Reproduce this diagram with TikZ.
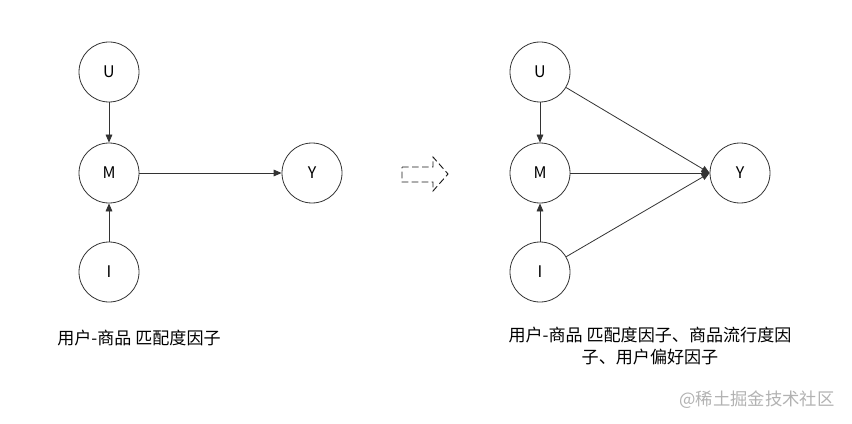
\documentclass[tikz,border=0pt]{standalone}
\usepackage{fontspec}
\setmainfont{Noto Sans CJK SC}
\usetikzlibrary{arrows.meta}

\begin{document}
\begin{tikzpicture}[x=0.75pt,y=-0.75pt,
  var/.style={circle,draw=black!80,line width=0.6pt,minimum size=45pt,inner sep=0pt,
    font=\fontsize{12}{14}\selectfont},
  link/.style={draw=black!80,line width=0.6pt,-{Triangle[length=6pt,width=5pt]}},
  note/.style={font=\fontsize{12.8}{16.5}\selectfont,align=center,inner sep=0pt}]
  \useasboundingbox (0,0) rectangle (852,424);
  % left graph
  \node[var] (U1) at (109,72) {U};
  \node[var] (M1) at (109,173) {M};
  \node[var] (I1) at (109,272) {I};
  \node[var] (Y1) at (312,173) {Y};
  \draw[link] (U1) -- (M1);
  \draw[link] (I1) -- (M1);
  \draw[link] (M1) -- (Y1);
  \node[note] (cap1) at (139,338) {用户-商品 匹配度因子};
  % dashed arrow
  \draw[black!90,line width=0.7pt,dash pattern=on 5pt off 2.5pt]
    (402,167) -- (433,167) -- (433,157) -- (448,174) -- (433,191) -- (433,182)
    -- (402,182) -- cycle;
  % right graph
  \node[var] (U2) at (540,72) {U};
  \node[var] (M2) at (540,173) {M};
  \node[var] (I2) at (540,272) {I};
  \node[var] (Y2) at (740,173) {Y};
  \draw[link] (U2) -- (M2);
  \draw[link] (I2) -- (M2);
  \draw[link] (M2) -- (Y2.west);
  \draw[link] (U2) -- (Y2.west);
  \draw[link] (I2) -- (Y2.west);
  \node[note] (cap2) at (650,346) {用户-商品 匹配度因子、商品流行度因\\子、用户偏好因子};
  % watermark
  \node[note,text=black!30,font=\fontsize{13}{15}\selectfont] (mark) at (757,400) {@稀土掘金技术社区};
\end{tikzpicture}
\end{document}
